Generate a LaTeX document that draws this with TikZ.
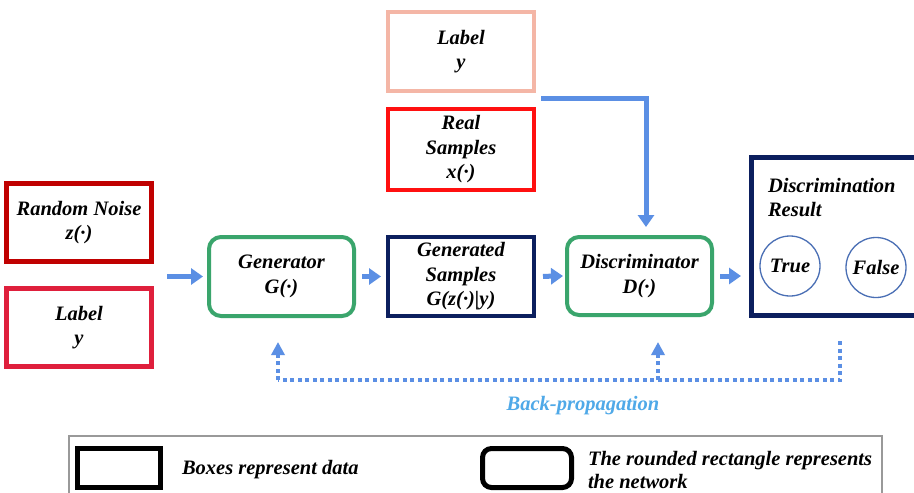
\documentclass[tikz,border=0pt]{standalone}
\usepackage{fontspec}
\setmainfont{Liberation Serif}
\usetikzlibrary{arrows.meta,calc}

\definecolor{noisered}{HTML}{C00000}
\definecolor{labelred}{HTML}{DF1F3C}
\definecolor{salmon}{HTML}{F4B6A6}
\definecolor{realred}{HTML}{FF1010}
\definecolor{netgreen}{HTML}{3AA56C}
\definecolor{navy}{HTML}{0C1F5E}
\definecolor{flowblue}{HTML}{5B8FE4}
\definecolor{circblue}{HTML}{4A6FB5}
\definecolor{bptext}{HTML}{4FA9E8}

\begin{document}
\begin{tikzpicture}[x=1pt,y=-1pt,
  every node/.style={font=\fontsize{20.5}{24.5}\selectfont\bfseries\itshape,
                     inner sep=0pt, outer sep=0pt},
  databox/.style={draw=#1, line width=4.5pt, align=center,
                  minimum width=145pt, minimum height=78pt},
  netbox/.style={draw=netgreen, line width=4pt, rounded corners=12pt,
                 align=center, minimum width=145pt, minimum height=79pt},
  outcome/.style={circle, draw=circblue, line width=1.3pt, minimum size=60pt},
  flow/.style={draw=flowblue, line width=5pt,
               -{Triangle[width=16pt,length=12pt]}},
  backprop/.style={draw=flowblue, line width=4pt, dash pattern=on 4pt off 3.5pt},
  bptip/.style={-{Triangle[width=13pt,length=13pt]}},
  legendbox/.style={draw=black, line width=5pt,
                    minimum width=#1, minimum height=39pt},
]
\useasboundingbox (0,0) rectangle (914,493);
\fill[white] (0,0) rectangle (914,493);
\clip (0,0) rectangle (914,493);

% data inputs
\node[databox=noisered] (noise) at (79,222.5) {Random Noise\\z(·)};
\node[databox=labelred] (labl) at (79,327.5) {Label\\y};
\node[databox=salmon, minimum width=146pt, minimum height=79pt] (labt) at (461,51.5) {Label\\y};
\node[databox=realred, minimum width=146pt, minimum height=81pt] (real) at (461,149.5) {Real\\Samples\\x(·)};

% networks and generated data
\node[netbox] (gen) at (281.5,276.5) {Generator\\G(·)};
\node[databox=navy, line width=4pt, minimum width=146pt, minimum height=79pt] (fake) at (461,276.5) {Generated\\Samples\\G(z(·)|y)};
\node[netbox, minimum height=78pt] (disc) at (639.5,276) {Discriminator\\D(·)};

% discrimination result panel
\node[draw=navy, line width=5pt, minimum width=188.5pt, minimum height=158pt] (res) at (845.75,236.5) {};
\node[anchor=north west, align=left] (restitle) at (768,178) {Discrimination\\Result};
\node[outcome] (true) at (790,266) {True};
\node[outcome] (false) at (876,267.5) {False};

% forward flow
\coordinate (inlet) at (167,276.5);
\draw[flow] (inlet) -- ([xshift=-6pt]gen.west);
\draw[flow, shorten <=8pt] (gen.east) -- ([xshift=-7pt]fake.west);
\draw[flow, shorten <=9pt] (fake.east) -- ([xshift=-4pt]disc.west);
\draw[flow, shorten <=8pt] (disc.east) -- ($(res.west |- disc.east)+(-10.5,0)$);
\draw[flow] ($(labt.south east)+(7,7)$) -| ($(disc.north)+(6.5,-10)$);

% back-propagation path
\coordinate (bpstart) at (840,341);
\coordinate (bpcorner) at (840,380);
\coordinate (bpleft) at (278,380);
\coordinate (bpmid) at (658,380);
\draw[backprop] (bpstart) -- (bpcorner) -- (bpleft);
\draw[backprop, bptip] (bpleft) -- ($(gen.south)+(-3.5,26)$);
\draw[backprop, bptip] (bpmid) -- ($(disc.south)+(18.5,27)$);
\node[text=bptext, anchor=base] (bplabel) at (583,410) {Back-propagation};

% legend
\draw[draw=black!40, line width=1.2pt] (69,436) rectangle (882,520);
\node[legendbox=83pt] (lgdata) at (119,468) {};
\node[anchor=base west] (lgdatatext) at (182,474) {Boxes represent data};
\node[legendbox=89pt, rounded corners=9pt] (lgnet) at (527,468) {};
\node[anchor=north west, align=left, font=\fontsize{20.5}{23.5}\selectfont\bfseries\itshape] (lgnettext) at (588,451) {The rounded rectangle represents\\the network};
\end{tikzpicture}
\end{document}
